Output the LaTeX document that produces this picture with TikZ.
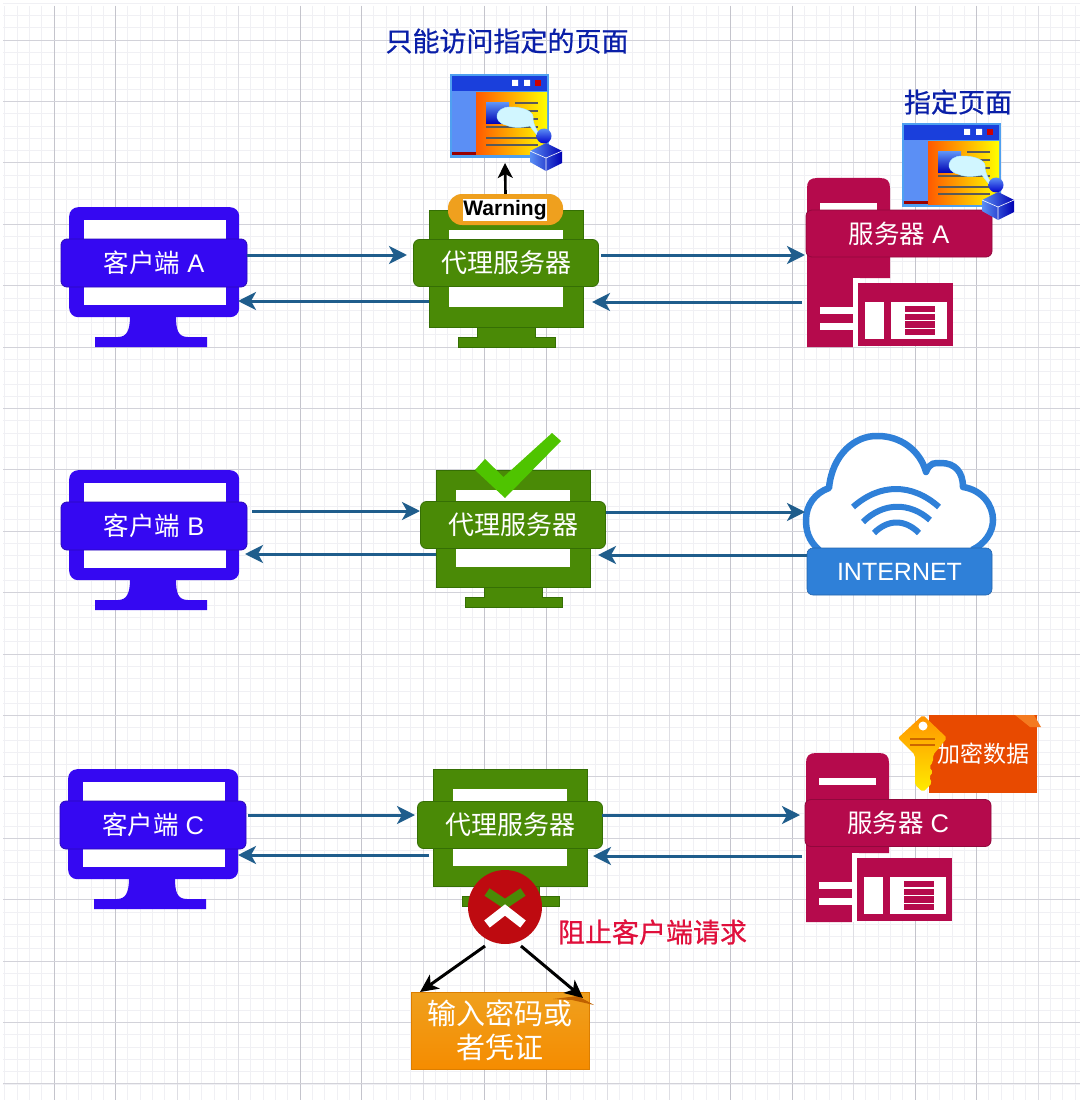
\documentclass[tikz,border=0pt]{standalone}
\usepackage{fontspec}
\setmainfont{Liberation Sans}
\newfontfamily\cjk{Noto Sans CJK SC}
\newfontfamily\cjkm[FakeBold=0.6]{Noto Sans CJK SC}
\usetikzlibrary{arrows.meta}
\definecolor{gridminor}{HTML}{F0F0F4}
\definecolor{gridmid}{HTML}{DEDEE4}
\definecolor{gridmajor}{HTML}{C4C4CC}
\definecolor{gridhoriz}{HTML}{D2D2D9}
\definecolor{clientc}{HTML}{3508F2}
\definecolor{clientd}{HTML}{2A08B8}
\definecolor{proxyc}{HTML}{4A8A06}
\definecolor{proxyd}{HTML}{356F04}
\definecolor{serverc}{HTML}{B50A4C}
\definecolor{cloudc}{HTML}{2F80D8}
\definecolor{arrowc}{HTML}{1F5D8C}
\definecolor{titlec}{HTML}{0A1FA8}
\definecolor{checkc}{HTML}{4FC400}
\definecolor{notec}{HTML}{E84A00}
\definecolor{notefold}{HTML}{F47A20}
\definecolor{ambertop}{HTML}{EFA01E}
\definecolor{amberbot}{HTML}{F58C00}
\definecolor{pagebar}{HTML}{1A3FDC}
\definecolor{pageedge}{HTML}{4FA0F0}
\definecolor{pageside}{HTML}{5B8FF5}
\definecolor{redtext}{HTML}{E0103C}
\definecolor{stopc}{HTML}{BE0A10}
\tikzset{
  minorline/.style={gridminor,line width=.7pt},
  midline/.style={gridmid,line width=.8pt},
  majorline/.style={gridmajor,line width=.9pt},
  horizline/.style={gridhoriz,line width=.9pt},
  barbase/.style={inner sep=0pt,outer sep=0pt,rounded corners=6pt,align=center,
    font=\fontsize{25}{25}\selectfont},
  clientbar/.style={barbase,fill=clientc,draw=clientd,line width=.8pt,text=white,
    minimum width=186pt,minimum height=48pt,font=\fontsize{25.5}{25.5}\selectfont},
  proxybar/.style={barbase,fill=proxyc,draw=proxyd,line width=.8pt,text=white,
    minimum width=185pt,minimum height=47pt,font=\fontsize{26}{26}\selectfont},
  serverbar/.style={barbase,fill=serverc,draw=serverc!80!black,line width=.8pt,text=white,
    minimum width=186pt,minimum height=47pt,font=\fontsize{25.5}{25.5}\selectfont},
  flow/.style={arrowc,line width=3pt,-{Stealth[length=18pt,width=18pt,inset=5pt]}},
  blackflow/.style={black,line width=3pt,-{Stealth[length=18pt,width=17pt,inset=5pt]}},
  cjklabel/.style={inner sep=0pt,font=\cjkm\fontsize{27}{27}\selectfont},
  browser/.pic={
    \fill[pageedge] (0,0) rectangle (99,84);
    \fill[pagebar] (2,2) rectangle (97,17);
    \fill[white] (62,6) rectangle (68,12) (74,6) rectangle (80,12);
    \fill[red!80!black] (85,6) rectangle (91,12);
    \fill[pageside] (2,17) rectangle (26,81);
    \fill[red!60!black] (2,78) rectangle (26,81);
    \shade[left color=orange!70!red,right color=yellow] (26,19) rectangle (97,81);
    \shade[top color=pageside,bottom color=blue!70!black] (36,29) rectangle (59,50);
    \foreach \ya in {29,37,45,53} {\draw[black!65,line width=1.5pt] (65,\ya) -- (88,\ya);}
    \foreach \ya in {53,64,71} {\draw[black!65,line width=1.5pt] (36,\ya) -- (88,\ya);}
    \fill[blue!20!cyan!18!white,draw=blue!20!cyan!30!white,line width=.5pt]
      (60,33) .. controls (45,33) and (42,48) .. (56,51) .. controls (64,55) and (75,53) .. (80,52)
      .. controls (84,58) and (88,62) .. (92,66) .. controls (88,58) and (84,52) .. (83,46)
      .. controls (85,38) and (75,33) .. (60,33) -- cycle;
    \shade[top color=pageside,bottom color=blue!80!black] (94,62) circle (7.5);
    \shade[left color=pageside,right color=blue!70!black]
      (80,77) -- (96,69) -- (112,77) -- (112,89) -- (96,97) -- (80,88) -- cycle;
    \draw[white,line width=.6pt] (80,77) -- (96,84) -- (112,77) (96,84) -- (96,97);
  }
}
% client monitor: name, left, top, text
\newcommand\clientmon[4]{%
  \node[fill=clientc,rounded corners=9pt,minimum width=170pt,minimum height=110pt,inner sep=0pt,anchor=north west] (#1frame) at (#2,#3) {};
  \fill[clientc] ({#2+61},{#3+109}) .. controls ({#2+61},{#3+123}) and ({#2+58},{#3+130}) .. ({#2+49},{#3+130})
     -- ({#2+26},{#3+130}) -- ({#2+26},{#3+140}) -- ({#2+138},{#3+140}) -- ({#2+138},{#3+130}) -- ({#2+119},{#3+130})
     .. controls ({#2+109},{#3+130}) and ({#2+107},{#3+123}) .. ({#2+107},{#3+109}) -- cycle;
  \fill[white] ({#2+14.5},{#3+13}) rectangle ({#2+156.5},{#3+98});
  \node[clientbar] (#1) at ({#2+85},{#3+56}) {#4};
}
% proxy monitor: name, left, top, bar offset
\newcommand\proxymon[4]{%
  \node[fill=proxyc,draw=proxyd,line width=.6pt,minimum width=154pt,minimum height=117pt,inner sep=0pt,anchor=north west] (#1frame) at (#2,#3) {};
  \fill[proxyc,draw=proxyd,line width=.5pt] ({#2+48},{#3+117}) -- ({#2+48},{#3+127}) -- ({#2+29},{#3+127}) -- ({#2+29},{#3+137})
     -- ({#2+126},{#3+137}) -- ({#2+126},{#3+127}) -- ({#2+106},{#3+127}) -- ({#2+106},{#3+117}) -- cycle;
  \fill[white] ({#2+20},{#3+20}) rectangle ({#2+134},{#3+97});
  \node[proxybar] (#1) at ({#2+77},{#3+#4}) {{\cjk 代理服务器}};
}
% server: name, left, top, bar offset, letter
\newcommand\servermon[5]{%
  \fill[serverc] ({#2},{#3+169}) -- ({#2},{#3+10}) .. controls ({#2},{#3+3}) and ({#2+3},{#3}) .. ({#2+10},{#3})
     -- ({#2+73},{#3}) .. controls ({#2+80},{#3}) and ({#2+83},{#3+3}) .. ({#2+83},{#3+10})
     -- ({#2+83},{#3+100}) -- ({#2+46},{#3+100}) -- ({#2+46},{#3+169}) -- cycle;
  \fill[white] ({#2+13},{#3+25}) rectangle ({#2+70},{#3+32});
  \fill[white] ({#2+13},{#3+129}) rectangle ({#2+46},{#3+136});
  \fill[white] ({#2+13},{#3+145}) rectangle ({#2+46},{#3+152});
  \fill[white] ({#2+46},{#3+100}) rectangle ({#2+53},{#3+169});
  \fill[serverc] ({#2+51},{#3+105}) rectangle ({#2+146},{#3+168});
  \fill[white] ({#2+58},{#3+124}) rectangle ({#2+77},{#3+161});
  \fill[white] ({#2+84},{#3+124}) rectangle ({#2+140},{#3+161});
  \foreach \k in {0,1,2,3} {\fill[serverc] ({#2+98},{#3+128+\k*7.6}) rectangle ({#2+128},{#3+134.4+\k*7.6});}
  \node[serverbar] (#1) at ({#2+92},{#3+#4}) {{\cjk 服务器} #5};
}
\begin{document}
\begin{tikzpicture}[x=1pt,y=-1pt]
\useasboundingbox (0,0) rectangle (1080,1102);
\fill[white] (0,0) rectangle (1080,1102);
% grid
\foreach \i in {0,...,87} {\pgfmathsetmacro\xx{4.8+12.3*\i}\draw[minorline] (\xx,6) -- (\xx,1100);}
\foreach \i in {0,...,88} {\pgfmathsetmacro\yy{3.2+12.28*\i}\draw[minorline] (3,\yy) -- (1080,\yy);}
\foreach \i in {0,...,17} {\pgfmathsetmacro\xx{54+61.5*\i}\draw[midline] (\xx,6) -- (\xx,1100);}
\foreach \xx in {54,115.5,300,361.5,484.5,546,730.5,792,915,976.5} {\draw[majorline] (\xx,6) -- (\xx,1100);}
\foreach \i in {0,...,17} {\pgfmathsetmacro\yy{40+61.4*\i}\draw[horizline] (3,\yy) -- (1080,\yy);}

% row A
\clientmon{clientA}{69}{207}{{\cjk 客户端} A}
\proxymon{proxyA}{429}{210}{53}
\servermon{serverA}{807}{178}{55.5}{A}
\pic at (450,74) {browser};
\pic at (902,123) {browser};
\node[cjklabel,text=titlec] (titleA) at (507,41) {只能访问指定的页面};
\node[cjklabel,text=titlec] (titleB) at (958,102) {指定页面};
\node[fill=ambertop,rounded corners=14pt,minimum width=115pt,minimum height=31pt,inner sep=0pt] (warn) at (505.5,209.5) {};
\node[fill=white,inner sep=0pt,minimum width=84pt,minimum height=22pt,font=\bfseries\fontsize{21}{21}\selectfont] (warntext) at (505,210) {Warning};
\coordinate (pageA) at (505,163);
\draw[black,line width=2.6pt,-{Stealth[length=15pt,width=15pt,inset=4pt]}] (warn.north) -- (pageA);
\coordinate (a1) at (247,255); \coordinate (a2) at (407,255);
\coordinate (a3) at (429,301); \coordinate (a4) at (238,301);
\coordinate (a5) at (601,255); \coordinate (a6) at (805,255);
\coordinate (a7) at (802,302); \coordinate (a8) at (592,302);
\draw[flow] (a1) -- (a2);
\draw[flow] (a3) -- (a4);
\draw[flow] (a5) -- (a6);
\draw[flow] (a7) -- (a8);

% row B
\clientmon{clientB}{69}{470}{{\cjk 客户端} B}
\proxymon{proxyB}{436}{470}{55}
\fill[checkc] (475,470) -- (485,459) -- (503.5,477) -- (552,433) -- (561,441) -- (505,498) -- cycle;
% cloud
\fill[white,draw=cloudc,line width=6.5pt,line join=round] (819,550) .. controls (808,540) and (806,530) .. (806,520)
  .. controls (806,505) and (815,493) .. (829,488) .. controls (832,455) and (855,435) .. (878,436)
  .. controls (900,436) and (920,450) .. (926,472) .. controls (930,462) and (935,463) .. (941,463)
  .. controls (955,463) and (963,472) .. (963,487) .. controls (982,490) and (993,505) .. (993,520)
  .. controls (993,532) and (985,544) .. (972,550);
\draw[cloudc,line width=6pt] (853,507) .. controls (880,483) and (912,483) .. (939,507);
\draw[cloudc,line width=6pt] (863,522) .. controls (883,502) and (910,502) .. (930,520);
\draw[cloudc,line width=6pt] (874,533) .. controls (888,519) and (905,519) .. (919,533);
\node[fill=cloudc,draw=cloudc!80!black,line width=.6pt,rounded corners=6pt,minimum width=185pt,minimum height=47pt,inner sep=0pt,text=white,font=\fontsize{25}{25}\selectfont] (internet) at (899.5,571.5) {INTERNET};
\coordinate (b1) at (252,511); \coordinate (b2) at (420,511);
\coordinate (b3) at (436,554); \coordinate (b4) at (245,554);
\coordinate (b5) at (606,512); \coordinate (b6) at (805,512);
\coordinate (b7) at (807,555); \coordinate (b8) at (598,555);
\draw[flow] (b1) -- (b2);
\draw[flow] (b3) -- (b4);
\draw[flow] (b5) -- (b6);
\draw[flow] (b7) -- (b8);

% row C
\clientmon{clientC}{68}{769}{{\cjk 客户端} C}
\proxymon{proxyC}{433}{769}{56}
\servermon{serverC}{806}{753}{70}{C}
% encrypted data note
\node[fill=notec,minimum width=108pt,minimum height=78pt,inner sep=0pt,text=white,font=\cjk\fontsize{23}{23}\selectfont] (secret) at (983,754) {\hspace{1pt}加密数据};
\fill[notefold] (1015,715) -- (1034,715) -- (1041,727) -- (1030,727) -- cycle;
% key
\shade[top color=orange!85!yellow,bottom color=yellow!85!orange,rounded corners=2pt] (898,738) -- (923,715) -- (947,738) -- (933,755) -- (933,762) -- (929,767) -- (933,772) -- (929,777) -- (932,783) -- (923,792) -- (915,785) -- (915,755) -- cycle;
\fill[white] (923,726) circle (4.5);
\draw[orange!80!black,line width=1.3pt] (910,739) -- (935,739) (910,745) -- (935,745);
\node[circle,fill=stopc,minimum size=74pt,inner sep=0pt] (stop) at (505,907) {};
\draw[proxyc,line width=9pt] (487,892) -- (505,904) -- (523,892);
\draw[white,line width=9pt] (487,924) -- (505,910) -- (523,924);
\node[cjklabel,text=redtext] (blocked) at (652.5,932) {阻止客户端请求};
\shade[top color=ambertop,bottom color=amberbot] (411,992) rectangle (589,1069);
\node[inner sep=0pt,minimum width=178pt,minimum height=77pt,align=center,text=white,font=\cjk\fontsize{29}{34}\selectfont,draw=amberbot!90!black,line width=.6pt] (creds) at (500,1030.5) {输入密码或\\者凭证};
\fill[orange!75!black] (553,999) -- (578,996) -- (594,1005) -- (572,1000) -- cycle;
\coordinate (s1) at (485,946); \coordinate (s2) at (420,992);
\coordinate (s3) at (521,946); \coordinate (s4) at (583,998);
\draw[blackflow] (s1) -- (s2);
\draw[blackflow] (s3) -- (s4);
\coordinate (c1) at (248,815); \coordinate (c2) at (415,815);
\coordinate (c3) at (429,855); \coordinate (c4) at (238,855);
\coordinate (c5) at (602,815); \coordinate (c6) at (800,815);
\coordinate (c7) at (802,856); \coordinate (c8) at (593,856);
\draw[flow] (c1) -- (c2);
\draw[flow] (c3) -- (c4);
\draw[flow] (c5) -- (c6);
\draw[flow] (c7) -- (c8);
\end{tikzpicture}
\end{document}
